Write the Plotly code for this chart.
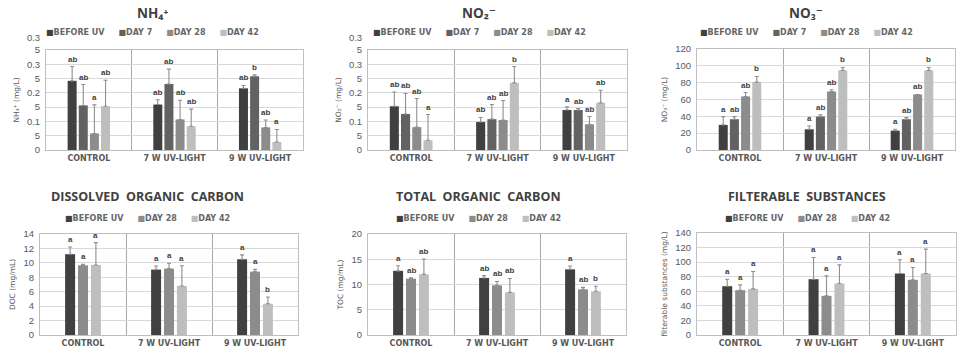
import plotly.graph_objects as go

# ---------------- data ----------------
groups = ["CONTROL", "7 W UV-LIGHT", "9 W UV-LIGHT"]
series4 = ["BEFORE UV", "DAY 7", "DAY 28", "DAY 42"]
series3 = ["BEFORE UV", "DAY 28", "DAY 42"]

# NH4+ (mg/L): rows = series4, cols = groups
nh4_mean = [[0.242, 0.159, 0.216], [0.156, 0.231, 0.258], [0.058, 0.107, 0.079], [0.153, 0.083, 0.028]]
nh4_sd = [[0.050, 0.017, 0.010], [0.073, 0.052, 0.005], [0.100, 0.067, 0.026], [0.091, 0.060, 0.044]]
nh4_letters = [["ab", "ab", "ab"], ["ab", "ab", "b"], ["a", "ab", "ab"], ["ab", "ab", "a"]]

# NO2- (mg/L)
no2_mean = [[0.153, 0.098, 0.140], [0.126, 0.108, 0.140], [0.080, 0.105, 0.090], [0.034, 0.235, 0.165]]
no2_sd = [[0.050, 0.016, 0.011], [0.072, 0.051, 0.005], [0.100, 0.068, 0.027], [0.090, 0.057, 0.044]]
no2_letters = [["ab", "ab", "a"], ["ab", "ab", "ab"], ["ab", "ab", "ab"], ["a", "b", "ab"]]

# NO3- (mg/L)
no3_mean = [[29.8, 24.6, 23.0], [36.6, 39.7, 36.6], [63.6, 69.5, 66.0], [80.7, 94.6, 94.6]]
no3_sd = [[9.9, 4.0, 1.6], [3.1, 2.0, 1.9], [4.7, 2.0, 0.0], [6.7, 3.5, 3.5]]
no3_letters = [["a", "a", "a"], ["ab", "ab", "ab"], ["ab", "ab", "ab"], ["b", "b", "b"]]

# DOC (mg/mL): rows = series3
doc_mean = [[11.2, 9.06, 10.5], [9.66, 9.2, 8.78], [9.7, 6.8, 4.34]]
doc_sd = [[1.0, 0.5, 0.6], [0.14, 0.74, 0.32], [3.1, 2.8, 0.93]]
doc_letters = [["a", "a", "a"], ["a", "a", "a"], ["a", "a", "b"]]

# TOC (mg/mL)
toc_mean = [[12.7, 11.3, 13.0], [11.15, 9.83, 9.04], [12.0, 8.45, 8.65]]
toc_sd = [[1.0, 0.45, 0.66], [0.2, 0.77, 0.4], [3.05, 2.75, 0.99]]
toc_letters = [["a", "ab", "a"], ["ab", "ab", "ab"], ["ab", "ab", "b"]]

# filterable substances (mg/L)
fs_mean = [[67.0, 76.6, 84.4], [61.5, 53.7, 75.7], [63.3, 70.6, 84.4]]
fs_sd = [[9.6, 29.8, 18.8], [7.3, 27.5, 17.0], [23.9, 25.7, 33.5]]
fs_letters = [["a", "a", "a"], ["a", "a", "a"], ["a", "a", "a"]]

# odd wrapped tick labels of the NH4+/NO2- panels, as printed
small_tickvals = [0, 0.05, 0.1, 0.15, 0.2, 0.25, 0.3, 0.35]
small_ticktext = ["0", "5", "0.1", "5", "0.2", "5", "0.3", "0.3<br>5<br>\u00a0"]

# ---------------- style ----------------
colors4 = ["#404040", "#626262", "#8c8c8c", "#bebebe"]
colors3 = ["#404040", "#8c8c8c", "#bebebe"]
W, H = 960, 359
TXT = "#595959"

panels = [
    dict(title="NH\u2084\u207a", ytitle="NH\u2084\u207a (mg/L)", series=series4,
         colors=colors4, mean=nh4_mean, sd=nh4_sd, letters=nh4_letters, yr=[0, 0.35],
         tickvals=small_tickvals, ticktext=small_ticktext, tsize=13.5,
         px=(46, 303), py=(50, 150), cx=152, ty=13, ly=33),
    dict(title="NO\u2082\u207b", ytitle="NO\u2082\u207b (mg/L)", series=series4,
         colors=colors4, mean=no2_mean, sd=no2_sd, letters=no2_letters, yr=[0, 0.35],
         tickvals=small_tickvals, ticktext=small_ticktext, tsize=13.5,
         px=(368, 627), py=(50, 150), cx=479, ty=13, ly=33),
    dict(title="NO\u2083\u207b", ytitle="NO\u2083\u207b (mg/L)", series=series4,
         colors=colors4, mean=no3_mean, sd=no3_sd, letters=no3_letters, yr=[0, 120], dtick=20,
         tsize=13.5, px=(697, 955), py=(49, 150), cx=806, ty=13, ly=33),
    dict(title="DISSOLVED\u00a0 ORGANIC\u00a0 CARBON", ytitle="DOC (mg/mL)", series=series3,
         colors=colors3, mean=doc_mean, sd=doc_sd, letters=doc_letters, yr=[0, 14], dtick=2,
         tsize=12.5, px=(40, 298), py=(234, 335), cx=147, ty=196, ly=218),
    dict(title="TOTAL\u00a0 ORGANIC\u00a0 CARBON", ytitle="TOC (mg/mL)", series=series3,
         colors=colors3, mean=toc_mean, sd=toc_sd, letters=toc_letters, yr=[0, 20], dtick=5,
         tsize=12.5, px=(368, 626), py=(234, 335), cx=478, ty=196, ly=218),
    dict(title="FILTERABLE\u00a0 SUBSTANCES", ytitle="filterable substances (mg/L)", series=series3,
         colors=colors3, mean=fs_mean, sd=fs_sd, letters=fs_letters, yr=[0, 140], dtick=20,
         tsize=12.5, px=(697, 956), py=(233, 335), cx=807, ty=196, ly=218),
]

fig = go.Figure()
annotations = []
layout_axes = {}

for k, p in enumerate(panels, start=1):
    xa = "x" if k == 1 else f"x{k}"
    ya = "y" if k == 1 else f"y{k}"
    n = len(p["series"])
    spacing = 0.13 if n == 4 else 0.15
    width = 0.105 if n == 4 else 0.116
    for i, name in enumerate(p["series"]):
        off = (i - (n - 1) / 2) * spacing
        fig.add_trace(go.Bar(
            x=groups, y=p["mean"][i], name=name, showlegend=False,
            width=width, offset=off - width / 2,
            marker=dict(color=p["colors"][i], line=dict(width=0)),
            error_y=dict(type="data", array=p["sd"][i], arrayminus=[0] * 3, symmetric=False,
                         color="#8f8f8f", thickness=1.1, width=2),
            xaxis=xa, yaxis=ya,
        ))
        for g in range(len(groups)):
            annotations.append(dict(
                x=g + off, y=p["mean"][i][g] + p["sd"][i][g], xref=xa, yref=ya,
                text=p["letters"][i][g], showarrow=False, yanchor="bottom", yshift=1,
                font=dict(family="Liberation Sans", size=8, color="#404040", weight="bold"),
            ))

    x0, x1 = p["px"]
    y0, y1 = p["py"]
    yax = dict(
        domain=[1 - y1 / H, 1 - y0 / H], anchor=xa, range=p["yr"], automargin=False,
        showgrid=True, gridcolor="#d9d9d9", gridwidth=1, zeroline=False,
        showline=True, linecolor="#bfbfbf", linewidth=1, mirror=True,
        ticks="", ticklabelstandoff=3,
        tickfont=dict(family="Liberation Sans", size=9.5, color=TXT),
        title=dict(text=p["ytitle"], standoff=6,
                   font=dict(family="DejaVu Sans", size=7.5, color=TXT)),
    )
    if "tickvals" in p:
        yax.update(tickmode="array", tickvals=p["tickvals"], ticktext=p["ticktext"])
    else:
        yax.update(tickmode="linear", tick0=0, dtick=p["dtick"])
    xax = dict(
        domain=[x0 / W, x1 / W], anchor=ya, type="category", automargin=False,
        tickson="boundaries", showgrid=True, gridcolor="#a8a8a8", gridwidth=1,
        showline=True, linecolor="#bfbfbf", linewidth=1, mirror=True,
        ticks="", zeroline=False,
        tickfont=dict(family="DejaVu Sans", size=8, color=TXT, weight="bold"),
        range=[-0.5, 2.5],
    )
    layout_axes["xaxis" if k == 1 else f"xaxis{k}"] = xax
    layout_axes["yaxis" if k == 1 else f"yaxis{k}"] = yax

    # panel title
    annotations.append(dict(
        x=p["cx"] / W, y=1 - p["ty"] / H, xref="paper", yref="paper", text=p["title"],
        showarrow=False, xanchor="center", yanchor="middle",
        font=dict(family="Open Sans, DejaVu Sans", size=p["tsize"], color="#404040", weight="bold"),
    ))
    # legend row
    items = [f"<span style='color:{c}'>\u25a0</span>{s}" for s, c in zip(p["series"], p["colors"])]
    annotations.append(dict(
        x=p["cx"] / W, y=1 - p["ly"] / H, xref="paper", yref="paper",
        text=("\u00a0" * 5).join(items), showarrow=False, xanchor="center", yanchor="middle",
        font=dict(family="DejaVu Sans", size=8, color="#666666", weight="bold"),
    ))

fig.update_layout(
    width=W, height=H, margin=dict(l=0, r=0, t=0, b=0, autoexpand=False),
    paper_bgcolor="white", plot_bgcolor="white",
    barmode="group", annotations=annotations, showlegend=False,
    **layout_axes,
)

fig.write_html("out.html", config={"displayModeBar": False},
               post_script="document.body.style.margin='0px';")
